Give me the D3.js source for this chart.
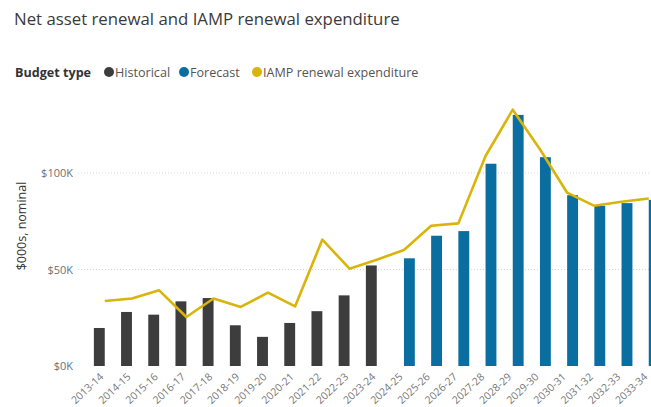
<!DOCTYPE html>
<html>
<head>
<meta charset="utf-8">
<script src="https://cdn.jsdelivr.net/npm/d3@7"></script>
<style>
  body { margin: 0; background: #fff; }
  svg { display: block; font-family: "Open Sans", "Noto Sans", sans-serif; }
</style>
</head>
<body>
<div id="chart"></div>
<script>
// values in $000s (K)
const categories = ["2013-14", "2014-15", "2015-16", "2016-17", "2017-18", "2018-19", "2019-20",
    "2020-21", "2021-22", "2022-23", "2023-24", "2024-25", "2025-26", "2026-27", "2027-28",
    "2028-29", "2029-30", "2030-31", "2031-32", "2032-33", "2033-34"];
const historical = [19.7, 28.0, 26.6, 33.5, 35.2, 21.1, 15.1, 22.3, 28.4, 36.6, 52.1,
    null, null, null, null, null, null, null, null, null, null];
const forecast = [null, null, null, null, null, null, null, null, null, null, null,
    55.8, 67.5, 69.9, 104.8, 130.1, 108.2, 88.5, 83.0, 84.4, 86.1];
const iamp = [33.7, 35.0, 39.2, 25.4, 35.0, 30.6, 38.0, 30.9, 65.5, 50.4, 55.1,
    60.1, 72.7, 73.9, 108.8, 132.8, 112.3, 89.8, 83.0, 85.1, 86.8];
const yTicks = [0, 50, 100];
const seriesNames = ["Historical", "Forecast"];
const colors = {Historical: "#3d3d3d", Forecast: "#0b6ea0", IAMP: "#d9b40a"};

const width = 651, height = 407;
const svg = d3.select("#chart").append("svg")
    .attr("width", width)
    .attr("height", height);

// title
svg.append("text")
    .attr("x", 14)
    .attr("y", 25)
    .attr("font-size", 16.8)
    .attr("fill", "#3a3a3a")
    .text("Net asset renewal and IAMP renewal expenditure");

// legend
const legend = svg.append("g").attr("transform", "translate(15, 72)");
legend.append("text")
    .attr("y", 4.5)
    .attr("font-size", 12.6)
    .attr("font-weight", "bold")
    .attr("fill", "#333")
    .text("Budget type");
const legendItems = [
    {name: "Historical", color: colors.Historical, x: 94},
    {name: "Forecast", color: colors.Forecast, x: 169},
    {name: "IAMP renewal expenditure", color: colors.IAMP, x: 242}
];
legendItems.forEach(d => {
    legend.append("circle").attr("cx", d.x).attr("cy", 0).attr("r", 5).attr("fill", d.color);
    legend.append("text")
        .attr("x", d.x + 6)
        .attr("y", 4.5)
        .attr("font-size", 12.6)
        .attr("fill", "#555")
        .text(d.name);
});

const x = d3.scaleBand()
    .domain(categories)
    .range([91.15, 662.35])
    .paddingInner(0.2)
    .paddingOuter(0.1);

const xSub = d3.scaleBand()
    .domain(seriesNames)
    .range([0, x.bandwidth()]);

const y = d3.scaleLinear()
    .domain([0, 100])
    .range([366, 173]);

// gridlines
svg.append("g")
    .selectAll("line")
    .data(yTicks.filter(d => d > 0))
    .join("line")
    .attr("x1", 78)
    .attr("x2", width)
    .attr("y1", d => y(d))
    .attr("y2", d => y(d))
    .attr("stroke", "#d6d6d6")
    .attr("stroke-dasharray", "1,2");

// y axis
const yAxis = d3.axisLeft(y)
    .tickValues(yTicks)
    .tickSize(0)
    .tickPadding(0)
    .tickFormat(d => `$${d}K`);
const yg = svg.append("g")
    .attr("transform", "translate(73, 0)")
    .call(yAxis);
yg.select(".domain").remove();
yg.selectAll("text")
    .attr("font-family", "\"Open Sans\", sans-serif")
    .attr("font-size", 11)
    .attr("fill", "#707070");

svg.append("text")
    .attr("transform", "translate(26, 226) rotate(-90)")
    .attr("text-anchor", "middle")
    .attr("font-size", 12.5)
    .attr("fill", "#333")
    .text("$000s, nominal");

// bars
const barData = [];
categories.forEach((c, i) => {
    if (historical[i] != null) barData.push({cat: c, series: "Historical", value: historical[i]});
    if (forecast[i] != null) barData.push({cat: c, series: "Forecast", value: forecast[i]});
});

svg.append("g")
    .selectAll("rect")
    .data(barData)
    .join("rect")
    .attr("x", d => x(d.cat) + xSub(d.series))
    .attr("width", xSub.bandwidth())
    .attr("y", d => y(d.value))
    .attr("height", d => y(0) - y(d.value))
    .attr("fill", d => colors[d.series]);

// IAMP line
const line = d3.line()
    .x((d, i) => x(categories[i]) + x.bandwidth() / 2)
    .y(d => y(d));
svg.append("path")
    .datum(iamp)
    .attr("d", line)
    .attr("fill", "none")
    .attr("stroke", colors.IAMP)
    .attr("stroke-width", 2.6)
    .attr("stroke-linejoin", "round");

// x axis
const xAxis = d3.axisBottom(x)
    .tickSize(0)
    .tickPadding(0);
const xg = svg.append("g")
    .attr("transform", `translate(0, ${y(0)})`)
    .call(xAxis);
xg.select(".domain").remove();
xg.selectAll("text")
    .attr("font-family", "\"Open Sans\", sans-serif")
    .attr("font-size", 10.5)
    .attr("fill", "#777")
    .attr("text-anchor", "end")
    .attr("x", 0)
    .attr("y", 0)
    .attr("dy", "0.35em")
    .attr("transform", "translate(-3, 9) rotate(-43)");
</script>
</body>
</html>
